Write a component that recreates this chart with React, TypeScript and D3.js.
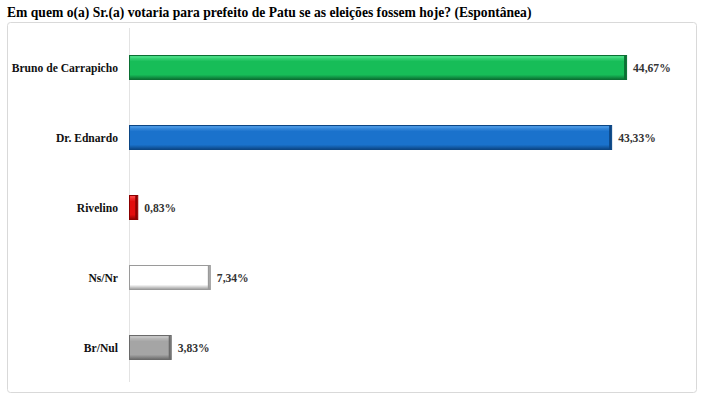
import React, { useEffect } from "react";
import * as d3 from "d3";

const candidates: string[] = ["Bruno de Carrapicho", "Dr. Ednardo", "Rivelino", "Ns/Nr", "Br/Nul"];
const votes: number[] = [44.67, 43.33, 0.83, 7.34, 3.83];
const voteLabels: string[] = ["44,67%", "43,33%", "0,83%", "7,34%", "3,83%"];
const title = "Em quem o(a) Sr.(a) votaria para prefeito de Patu se as eleições fossem hoje? (Espontânea)";

// main, light (top), dark (edge)
const palette = [
  { main: "#17bd58", light: "#4fe08a", dark: "#0b6f33" },
  { main: "#1a72cc", light: "#4f9be6", dark: "#0c4684" },
  { main: "#e30c0c", light: "#ff4a4a", dark: "#8a0000" },
  { main: "#ffffff", light: "#ffffff", dark: "#9a9a9a" },
  { main: "#a5a5a5", light: "#c9c9c9", dark: "#6a6a6a" },
];

const W = 701;
const H = 402;

const App: React.FC = () => {
  useEffect(() => {
    document.body.style.margin = "0";
  }, []);

  const x = d3.scaleLinear().domain([0, 50]).range([129, 686.5]);
  const y = d3.scaleBand<string>()
    .domain(candidates)
    .range([32.5, 382.5])
    .paddingInner(0.643)
    .paddingOuter(0.3215);
  const bh = y.bandwidth();
  const font = "'Liberation Serif', 'Times New Roman', serif";

  return (
    <svg width={W} height={H} style={{ display: "block", background: "#fff" }}>
      <defs>
        {palette.map((p, i) => (
          <linearGradient key={i} id={`g${i}`} x1="0" y1="0" x2="0" y2="1">
            <stop offset="0" stopColor={p.light} />
            <stop offset="0.25" stopColor={p.main} />
            <stop offset="0.8" stopColor={p.main} />
            <stop offset="1" stopColor={p.dark} />
          </linearGradient>
        ))}
      </defs>
      <text x={7} y={17} fontFamily={font} fontWeight="bold" fontSize={13.6} fill="#000">
        {title}
      </text>
      <rect x={7.5} y={22.5} width={689} height={370} rx={3} fill="none" stroke="#d9d9d9" />
      <line x1={x(0) + 0.5} x2={x(0) + 0.5} y1={28} y2={382} stroke="#e3e3e3" />
      {candidates.map((c, i) => {
        const y0 = y(c)!;
        const x0 = x(0);
        const w = x(votes[i]) - x0;
        const p = palette[i];
        return (
          <g key={c}>
            <text
              x={118}
              y={y0 + bh / 2 + 4}
              textAnchor="end"
              fontFamily={font}
              fontWeight="bold"
              fontSize={11.6}
              fill="#111"
            >
              {c}
            </text>
            <rect x={x0 + 0.5} y={y0 + 0.5} width={w - 1} height={bh - 1} fill={`url(#g${i})`} stroke={p.dark} />
            <line x1={x0 + 2} x2={x0 + w - 2} y1={y0 + 2} y2={y0 + 2} stroke={p.light} strokeOpacity={0.8} />
            <line x1={x0 + w - 2} x2={x0 + w - 2} y1={y0 + 1} y2={y0 + bh - 1} stroke={p.dark} strokeWidth={2} />
            <text
              x={x0 + w + 6}
              y={y0 + bh / 2 + 4}
              fontFamily={font}
              fontWeight="bold"
              fontSize={11.6}
              fill="#333"
            >
              {voteLabels[i]}
            </text>
          </g>
        );
      })}
    </svg>
  );
};

export default App;
